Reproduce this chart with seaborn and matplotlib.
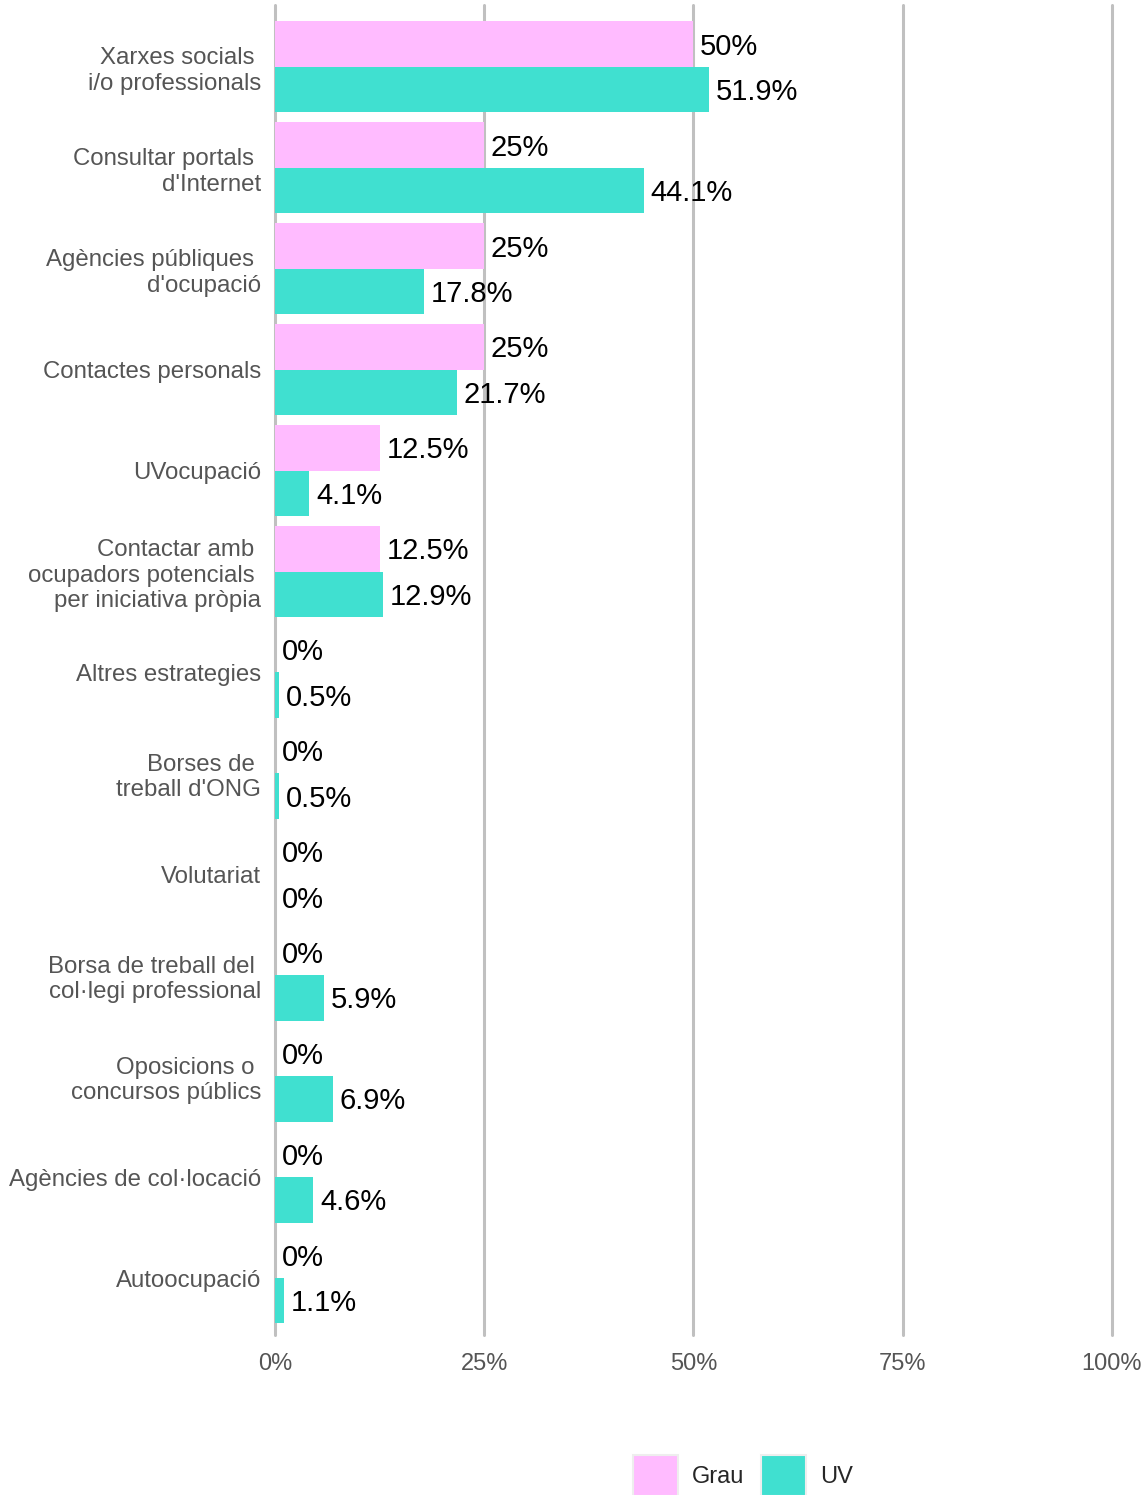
import numpy as np
import pandas as pd
import matplotlib
matplotlib.use("Agg")
import matplotlib.pyplot as plt
import seaborn as sns
from matplotlib.patches import Patch

# categories (y axis) and the two series, in %
categories = [
    "Xarxes socials \ni/o professionals",
    "Consultar portals \nd'Internet",
    "Agències públiques \nd'ocupació",
    "Contactes personals",
    "UVocupació",
    "Contactar amb \nocupadors potencials \nper iniciativa pròpia",
    "Altres estrategies",
    "Borses de \ntreball d'ONG",
    "Volutariat",
    "Borsa de treball del \ncol·legi professional",
    "Oposicions o \nconcursos públics",
    "Agències de col·locació",
    "Autoocupació",
]
grau = [50, 25, 25, 25, 12.5, 12.5, 0, 0, 0, 0, 0, 0, 0]
uv = [51.9, 44.1, 17.8, 21.7, 4.1, 12.9, 0.5, 0.5, 0, 5.9, 6.9, 4.6, 1.1]
series = ["Grau", "UV"]
colors = ["#ffbbff", "#40e0d0"]
xticks = [0, 25, 50, 75, 100]

df = pd.DataFrame({
    "cat": categories * 2,
    "serie": ["Grau"] * len(categories) + ["UV"] * len(categories),
    "val": grau + uv,
})

sns.set_theme(style="white")
plt.rcParams['font.family'] = ['Liberation Sans', 'DejaVu Sans']

fig = plt.figure(figsize=(11.48, 14.95), dpi=100)
ax = fig.add_axes([0.2395, 0.107, 0.729, 0.8897])

sns.barplot(data=df, y="cat", x="val", hue="serie", order=categories,
            hue_order=series, palette=colors, width=0.9, orient="h",
            ax=ax, legend=False, saturation=1, linewidth=0)

# value labels
for cont in ax.containers:
    for bar in cont:
        w = bar.get_width()
        yc = bar.get_y() + bar.get_height() / 2 + 0.025
        txt = f"{w:g}%"
        ax.text(w + 0.8, yc, txt, va="center", ha="left", fontsize=21, color="black")

ax.set_xlim(0, 100)
ax.set_ylim(12.565, -0.614)
ax.set_xticks(xticks)
ax.set_xticklabels([f"{t}%" for t in xticks], color="#555555", fontsize=17)
ax.tick_params(axis="x", length=0, pad=13)
ax.tick_params(axis="y", length=0, pad=10)
for lab in ax.get_yticklabels():
    lab.set_fontsize(17.3)
    lab.set_color("#555555")
    lab.set_multialignment("right")
ax.set_xlabel("")
ax.set_ylabel("")
ax.grid(False)
for t in xticks:
    ax.axvline(t, color="#c0c0c0", lw=2.2, zorder=0, clip_on=False)
for s in ax.spines.values():
    s.set_visible(False)

handles = [Patch(facecolor=c, edgecolor="#eeeeee", linewidth=1.5) for c in colors]
fig.legend(handles, series, loc="center", bbox_to_anchor=(0.647, 0.0132),
           ncol=2, frameon=False, fontsize=17, handlelength=1.9, handleheight=2.3,
           handletextpad=0.6, columnspacing=0.7)

fig.savefig("out.png", dpi=100)
